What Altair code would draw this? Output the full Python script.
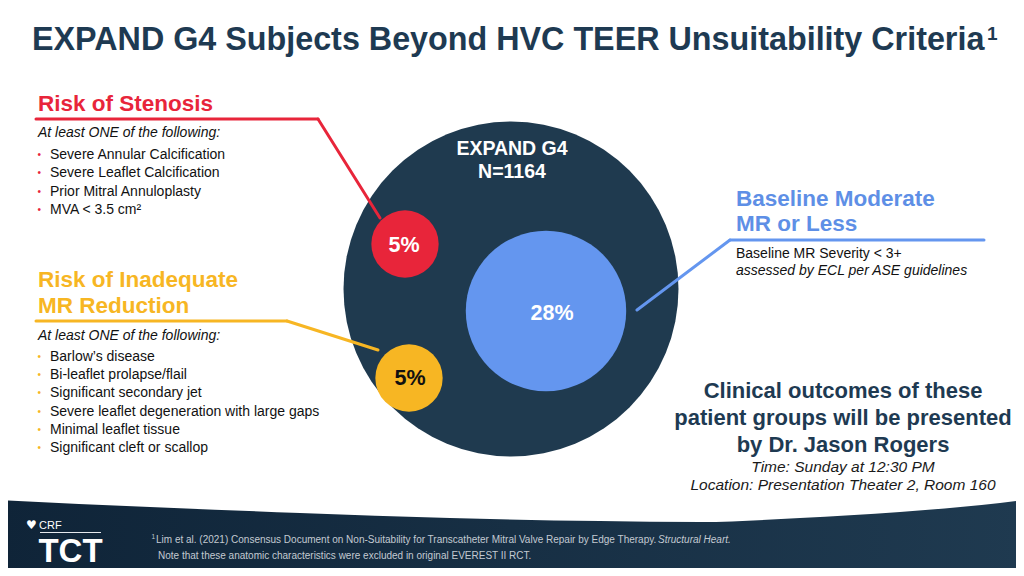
import math
import altair as alt
import pandas as pd

# ---------------- content / data ----------------
title_text = "EXPAND G4 Subjects Beyond HVC TEER Unsuitability Criteria"
title_sup = "1"
cohort_name = "EXPAND G4"
cohort_n = 1164

group_names = ["Baseline Moderate MR or Less", "Risk of Stenosis", "Risk of Inadequate MR Reduction"]
group_pct = [28, 5, 5]

stenosis_head = ["Risk of Stenosis"]
stenosis_items = [
    "Severe Annular Calcification",
    "Severe Leaflet Calcification",
    "Prior Mitral Annuloplasty",
    "MVA < 3.5 cm²",
]
mr_head = ["Risk of Inadequate", "MR Reduction"]
mr_items = [
    "Barlow’s disease",
    "Bi-leaflet prolapse/flail",
    "Significant secondary jet",
    "Severe leaflet degeneration with large gaps",
    "Minimal leaflet tissue",
    "Significant cleft or scallop",
]
intro_text = "At least ONE of the following:"
baseline_head = ["Baseline Moderate", "MR or Less"]
baseline_desc = "Baseline MR Severity < 3+"
baseline_note = "assessed by ECL per ASE guidelines"
outcome_lines = ["Clinical outcomes of these", "patient groups will be presented", "by Dr. Jason Rogers"]
outcome_info = ["Time: Sunday at 12:30 PM", "Location: Presentation Theater 2, Room 160"]
foot_ref = "Lim et al. (2021) Consensus Document on Non-Suitability for Transcatheter Mitral Valve Repair by Edge Therapy."
foot_journal = "Structural Heart."
foot_note = "Note that these anatomic characteristics were excluded in original EVEREST II RCT."

# ---------------- layout (pixel positions of the slide) ----------------
FONT = "Liberation Sans"
NAVY = "#1f3a4f"
TITLE_C = "#1e3a52"
RED = "#e8253a"
YELLOW = "#f7b623"
BLUE = "#6496ef"
BLUE_H = "#5e8fe6"
FOOT_C = "#c3cad2"

circle_x = [511, 546, 405, 409]
circle_y = [289, 311, 244, 378]
circle_r = [189, 90.5, 38, 38]
circle_col = [NAVY, BLUE, RED, YELLOW]

footer_x = [0, 150, 300, 450, 600, 700, 800, 900, 1000, 1024]
footer_top = [500, 507, 513, 518, 521, 522, 518, 512, 503, 500]

xs = alt.Scale(domain=[8, 1016], nice=False, zero=False)
ys = alt.Scale(domain=[8, 568], reverse=True, nice=False, zero=False)


def X(f="x"):
    return alt.X(f"{f}:Q", scale=xs, axis=None)


def Y(f="y"):
    return alt.Y(f"{f}:Q", scale=ys, axis=None)


def text_layer(df, size, weight="normal", style="normal", align="left", color=None, font=FONT):
    enc = dict(x=X(), y=Y(), text="t:N")
    kw = dict(font=font, fontSize=size, fontWeight=weight, fontStyle=style,
              align=align, baseline="alphabetic")
    if color is None:
        enc["color"] = alt.Color("c:N", scale=None)
    else:
        kw["color"] = color
    return alt.Chart(df).mark_text(**kw).encode(**enc)


layers = []

# footer band
fdf = pd.DataFrame({"x": footer_x, "y": footer_top, "y2": [576] * len(footer_x)})
layers.append(
    alt.Chart(fdf).mark_area(
        interpolate="monotone", clip=True,
        color=alt.Gradient(gradient="linear", x1=0, x2=1, y1=0, y2=0,
                           stops=[alt.GradientStop(color="#0f2438", offset=0),
                                  alt.GradientStop(color="#1f3a50", offset=1)]),
    ).encode(x=X(), y=Y(), y2="y2:Q")
)

# big cohort circle
cdf = pd.DataFrame({"x": circle_x, "y": circle_y,
                    "s": [math.pi * r * r for r in circle_r], "c": circle_col})
layers.append(
    alt.Chart(cdf.iloc[[0]]).mark_circle(opacity=1).encode(
        x=X(), y=Y(), size=alt.Size("s:Q", scale=None), color=alt.Color("c:N", scale=None))
)

# connector lines
seg = pd.DataFrame({
    "x": [36, 318, 36, 287, 637, 730],
    "y": [119, 119, 321, 321, 310, 240],
    "x2": [318, 380, 287, 378, 730, 984],
    "y2": [119, 218, 321, 350, 240, 240],
    "c": [RED, RED, YELLOW, YELLOW, BLUE, BLUE],
})
layers.append(
    alt.Chart(seg).mark_rule(strokeWidth=3, strokeCap="round").encode(
        x=X(), y=Y(), x2="x2:Q", y2="y2:Q", color=alt.Color("c:N", scale=None))
)

# subgroup circles
layers.append(
    alt.Chart(cdf.iloc[1:]).mark_circle(opacity=1).encode(
        x=X(), y=Y(), size=alt.Size("s:Q", scale=None), color=alt.Color("c:N", scale=None))
)

# title
layers.append(text_layer(pd.DataFrame({"x": [32], "y": [50], "t": [title_text]}), 32.3, "bold", color=TITLE_C))
layers.append(text_layer(pd.DataFrame({"x": [987], "y": [40], "t": [title_sup]}), 19, "bold", color=TITLE_C))

# circle labels
layers.append(text_layer(pd.DataFrame({"x": [512, 512], "y": [155, 178],
                                       "t": [cohort_name, f"N={cohort_n}"]}), 19.5, "bold", align="center", color="white"))
pdf = pd.DataFrame({"x": [552, 404, 410], "y": [320, 252, 385],
                    "t": [f"{p}%" for p in group_pct], "c": ["white", "white", "#111111"]})
layers.append(text_layer(pdf, 21.5, "bold", align="center"))

# headings
hdf = pd.DataFrame({
    "x": [38, 38, 38, 736, 736],
    "y": [111, 287, 313, 206, 231],
    "t": stenosis_head + mr_head + baseline_head,
    "c": [RED, YELLOW, YELLOW, BLUE_H, BLUE_H],
})
layers.append(text_layer(hdf, 22.5, "bold"))

# italic intro lines
idf = pd.DataFrame({"x": [38, 38, 736], "y": [137, 340, 275],
                    "t": [intro_text, intro_text, baseline_note]})
layers.append(text_layer(idf, 14, style="italic", color="#111111"))

# bullet items
s_y = [159, 177, 195.5, 213.5]
m_y = [361, 379, 397, 415.5, 434, 452]
bdf = pd.DataFrame({"x": [50] * 10 + [736], "y": s_y + m_y + [258],
                    "t": stenosis_items + mr_items + [baseline_desc]})
layers.append(text_layer(bdf, 14, color="#111111"))
dots = pd.DataFrame({"x": [37.5] * 10, "y": [v - 1 for v in s_y + m_y], "t": ["•"] * 10,
                     "c": [RED] * 4 + [YELLOW] * 6})
layers.append(text_layer(dots, 10))

# outcome text
odf = pd.DataFrame({"x": [843] * 3, "y": [398, 424.5, 451.5], "t": outcome_lines})
layers.append(text_layer(odf, 22, "bold", align="center", color=TITLE_C))
oidf = pd.DataFrame({"x": [843, 843], "y": [471.5, 490], "t": outcome_info})
layers.append(text_layer(oidf, 15.5, style="italic", align="center", color="#1a1a1a"))

# footer texts
layers.append(text_layer(pd.DataFrame({"x": [151.5], "y": [538.5], "t": ["1"]}), 6.5, color=FOOT_C))
layers.append(text_layer(pd.DataFrame({"x": [156, 158], "y": [543, 559], "t": [foot_ref, foot_note]}), 10,
                         color=FOOT_C))
layers.append(text_layer(pd.DataFrame({"x": [658], "y": [543], "t": [foot_journal]}), 10, style="italic",
                         color=FOOT_C))

# logo
layers.append(text_layer(pd.DataFrame({"x": [26], "y": [528.5], "t": ["♥"]}), 12, color="white", font="DejaVu Sans"))
layers.append(text_layer(pd.DataFrame({"x": [39], "y": [528.5], "t": ["CRF"]}), 11, color="white"))
logo_line = pd.DataFrame({"x": [40], "x2": [101], "y": [532.5]})
layers.append(alt.Chart(logo_line).mark_rule(strokeWidth=1, color="#e6e9ee").encode(x=X(), x2="x2:Q", y=Y()))
layers.append(text_layer(pd.DataFrame({"x": [70.5], "y": [562], "t": ["TCT"]}), 33, "bold", align="center", color="white"))

chart = alt.layer(*layers).properties(
    width=1008, height=560, padding=0, autosize=alt.AutoSizeParams(type="none"), background="white"
).configure_view(strokeWidth=0)

chart.save("out.html", embed_options={"renderer": "svg", "actions": False})
